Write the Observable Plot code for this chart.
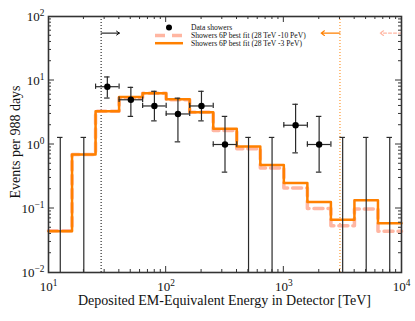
<!DOCTYPE html>
<html><head><meta charset="utf-8">
<script src="https://cdn.jsdelivr.net/npm/d3@7"></script>
<script src="https://cdn.jsdelivr.net/npm/@observablehq/plot@0.6"></script>
<style>body{margin:0;background:#fff} svg{font-family:"Liberation Serif",serif;background:#fff}</style>
</head><body><div id="chart"></div>
<script>
// ---- data ----
const binEdges = [10, 15.85, 25.12, 39.81, 63.1, 100, 158.5, 251.2, 398.1, 631, 1000, 1585, 2512, 3981, 6310, 10000];
const fit10PeV = [0.045, 0.70, 3.3, 5.4, 6.3, 5.0, 3.2, 1.65, 0.86, 0.43, 0.21, 0.10, 0.054, 0.098, 0.044];
const fit3PeV  = [0.044, 0.70, 3.3, 5.5, 6.3, 5.1, 3.2, 1.76, 0.93, 0.48, 0.25, 0.126, 0.067, 0.135, 0.059];
const dataCounts = [0, 0, 8, 5, 4, 3, 4, 1, 0, 0, 2, 1, 0, 0, 0];
const dataLow  = [null, null, 5.32, 2.75, 2.34, 1.10, 2.34, 0.37, null, null, 0.74, 0.37, null, null, null];
const dataHigh = [1.29, 1.29, 11.36, 7.81, 6.78, 5.30, 6.78, 2.75, 1.29, 1.29, 4.25, 2.75, 1.29, 1.29, 1.29];
const energyCuts = [28, 3000, 10000];
const arrowTips = [40, 2075, 6600];
const arrowLevel = 55;
const xTicks = [10, 100, 1000, 10000];
const yTicks = [0.01, 0.1, 1, 10, 100];
const legendLabels = ["Data showers", "Showers 6P best fit (28 TeV -10 PeV)", "Showers 6P best fit (28 TeV -3 PeV)"];

const yMin = 0.01, yMax = 100, xMin = 10, xMax = 10000;
const orange = "#ff8000", pink = "#ffb6a2";

function steps(vals) {
  const pts = vals.map((v, i) => ({x: binEdges[i], y: v}));
  pts.push({x: binEdges[vals.length], y: vals[vals.length - 1]});
  return pts;
}
const bins = dataCounts.map((n, i) => ({
  lo: binEdges[i], hi: binEdges[i + 1], c: Math.sqrt(binEdges[i] * binEdges[i + 1]),
  n, low: dataLow[i], high: dataHigh[i]
}));
const withData = bins.filter(d => d.n > 0);
const capX = 1.055, capY = 1.1;
const sup = d => "10^" + Math.round(Math.log10(d));
const ink = "#2a2a2a";

const chart = Plot.plot({
  width: 415, height: 321,
  marginLeft: 48, marginRight: 14, marginTop: 16, marginBottom: 49,
  style: {fontFamily: "Liberation Serif, serif", background: "#fff"},
  x: {type: "log", domain: [xMin, xMax]},
  y: {type: "log", domain: [yMin, yMax]},
  marks: [
    Plot.ruleX([energyCuts[0]], {stroke: "black", strokeWidth: 1, strokeDasharray: "1,2"}),
    Plot.ruleX([energyCuts[1]], {stroke: orange, strokeWidth: 1, strokeDasharray: "1,2"}),
    Plot.line(steps(fit10PeV), {x: "x", y: "y", curve: "step-after", stroke: pink, strokeWidth: 3.5, strokeDasharray: "9,5"}),
    Plot.line(steps(fit3PeV), {x: "x", y: "y", curve: "step-after", stroke: orange, strokeWidth: 2.5}),
    // vertical error bars
    Plot.ruleX(bins, {x: "c", y1: d => d.low ?? yMin, y2: "high", stroke: ink, strokeWidth: 1.2}),
    Plot.ruleY(bins, {y: "high", x1: d => d.c / capX, x2: d => d.c * capX, stroke: ink, strokeWidth: 1.2}),
    Plot.ruleY(withData, {y: "low", x1: d => d.c / capX, x2: d => d.c * capX, stroke: ink, strokeWidth: 1.2}),
    // horizontal error bars
    Plot.ruleY(withData, {y: "n", x1: "lo", x2: "hi", stroke: ink, strokeWidth: 1.2}),
    Plot.ruleX(withData, {x: "lo", y1: d => d.n / capY, y2: d => d.n * capY, stroke: ink, strokeWidth: 1.2}),
    Plot.ruleX(withData, {x: "hi", y1: d => d.n / capY, y2: d => d.n * capY, stroke: ink, strokeWidth: 1.2}),
    Plot.dot(withData, {x: "c", y: "n", r: 3.2, fill: "black"}),
    // arrows
    Plot.arrow([0], {x1: () => energyCuts[0], x2: () => arrowTips[0], y1: () => arrowLevel, y2: () => arrowLevel, stroke: "black", strokeWidth: 1, headLength: 5, headAngle: 70}),
    Plot.arrow([0], {x1: () => energyCuts[1], x2: () => arrowTips[1], y1: () => arrowLevel, y2: () => arrowLevel, stroke: orange, strokeWidth: 1.2, headLength: 5, headAngle: 70}),
    Plot.arrow([0], {x1: () => energyCuts[2], x2: () => arrowTips[2], y1: () => arrowLevel, y2: () => arrowLevel, stroke: pink, strokeWidth: 1.2, strokeDasharray: "3,2", headLength: 5, headAngle: 70}),
    Plot.axisX({ticks: xTicks, tickFormat: sup, tickSize: 0, tickPadding: 9, fontSize: 13, label: null, fill: "#111"}),
    Plot.axisY({ticks: yTicks, tickFormat: sup, tickSize: 0, tickPadding: 4, fontSize: 13, label: null, fill: "#111"}),
    Plot.frame({stroke: "#333", strokeWidth: 1.6})
  ]
});

// superscripts in tick labels
d3.select(chart).selectAll("g[aria-label$='tick label'] text").each(function() {
  const t = this.textContent;
  if (!t.includes("^")) return;
  const [b, e] = t.split("^");
  const sel = d3.select(this);
  sel.text(b);
  sel.append("tspan").attr("dy", "-0.5em").attr("font-size", "0.72em").text(e.replace("-", "\u2212"));
});

// inward ticks on all sides
const sx = chart.scale("x"), sy = chart.scale("y");
const X = v => sx.apply(v), Y = v => sy.apply(v);
const g = d3.select(chart).append("g").attr("stroke", "#333").attr("stroke-width", 1);
const x0 = X(xMin), x1 = X(xMax), y0 = Y(yMin), y1 = Y(yMax);
for (let e = 1; e < 4; e++) for (let m = 1; m < 10; m++) {
  const v = m * 10 ** e, px = X(v), L = m === 1 ? 6 : 3;
  if (m === 1 && e === 1) continue;
  g.append("line").attr("x1", px).attr("x2", px).attr("y1", y0).attr("y2", y0 - L);
  g.append("line").attr("x1", px).attr("x2", px).attr("y1", y1).attr("y2", y1 + L);
}
for (let e = -2; e < 2; e++) for (let m = 1; m < 10; m++) {
  const v = m * 10 ** e, py = Y(v), L = m === 1 ? 6 : 3;
  if (m === 1 && e === -2) continue;
  g.append("line").attr("y1", py).attr("y2", py).attr("x1", x0).attr("x2", x0 + L);
  g.append("line").attr("y1", py).attr("y2", py).attr("x1", x1).attr("x2", x1 - L);
}

// axis titles
const svg = d3.select(chart);
svg.append("text").attr("x", (x0 + x1) / 2).attr("y", 305).attr("text-anchor", "middle").attr("font-size", 14).attr("fill", "#111")
  .text("Deposited EM-Equivalent Energy in Detector [TeV]");
svg.append("text").attr("transform", "translate(20,142) rotate(-90)").attr("text-anchor", "middle").attr("font-size", 14).attr("fill", "#111")
  .text("Events per 988 days");

// legend
const lg = svg.append("g").attr("font-size", 7.6).attr("fill", "#111").attr("text-anchor", "start");
const lx = 155, lw = 28, ly = [27.6, 35.4, 43.2];
lg.append("circle").attr("cx", lx + lw / 2).attr("cy", ly[0]).attr("r", 3).attr("fill", "black");
lg.append("line").attr("x1", lx).attr("x2", lx + lw).attr("y1", ly[1]).attr("y2", ly[1]).attr("stroke", pink).attr("stroke-width", 3.5).attr("stroke-dasharray", "10,7");
lg.append("line").attr("x1", lx).attr("x2", lx + lw).attr("y1", ly[2]).attr("y2", ly[2]).attr("stroke", orange).attr("stroke-width", 2.5);
legendLabels.forEach((t, i) => lg.append("text").attr("x", 191).attr("y", ly[i] + 2.6).text(t));

document.getElementById("chart").append(chart);
</script>
</body></html>
